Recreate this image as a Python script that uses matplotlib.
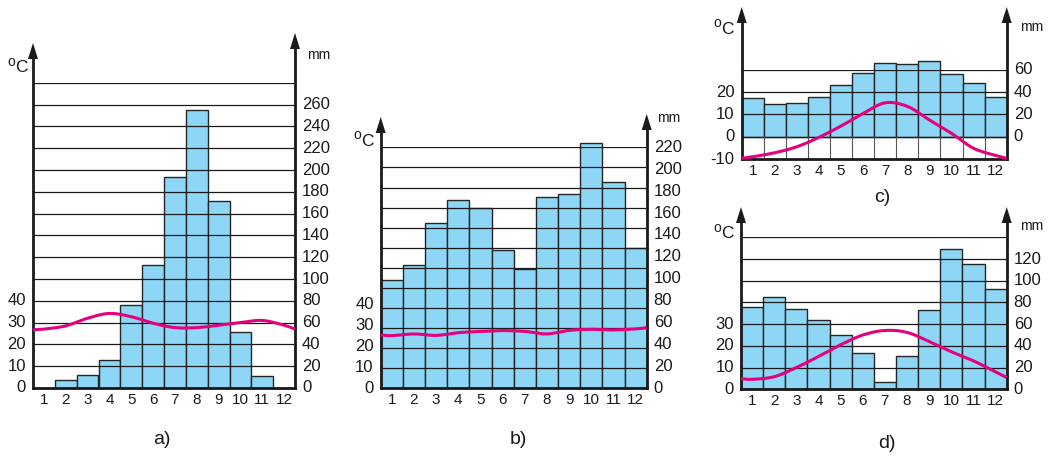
import numpy as np
import matplotlib
matplotlib.use("Agg")
import matplotlib.pyplot as plt
from matplotlib.transforms import blended_transform_factory, offset_copy
from matplotlib.patches import Polygon

plt.rcParams['font.family'] = ['Liberation Sans', 'DejaVu Sans']

W, H, DPI = 1055, 459, 100

# ---------------- data ----------------
months = list(range(1, 13))
month_labels = [str(m) for m in months]
# temperature curve is read at the left axis, at each month and at the right axis
temp_x = [0.5] + months + [12.5]

rain_a = [0, 7, 12, 26, 76, 113, 194, 255, 172, 51, 11, 0]
temp_a = [26.7, 27.0, 28.5, 32.0, 34.2, 32.7, 29.7, 27.7, 27.7, 28.8, 30.0, 31.0, 28.8, 27.0]

rain_b = [99, 113, 151, 172, 165, 126, 109, 175, 177, 224, 188, 128]
temp_b = [25.4, 25.1, 25.9, 25.2, 26.5, 27.1, 27.5, 27.1, 25.9, 27.6, 28.1, 27.8, 28.3, 28.9]

rain_c = [35, 29, 30, 36, 46, 57, 66, 65, 68, 56, 48, 36]
temp_c = [-9.7, -9.0, -7.2, -4.5, -0.3, 4.8, 10.4, 15.2, 13.6, 7.5, 1.5, -5.2, -8.4, -9.7]

rain_d = [76, 85, 74, 64, 50, 33, 7, 31, 73, 129, 115, 92]
temp_d = [4.9, 4.6, 5.8, 10.0, 15.1, 20.5, 25.0, 27.1, 26.2, 22.0, 17.3, 13.1, 8.0, 5.4]

mm_ticks_a = list(range(0, 261, 20))
mm_ticks_b = list(range(0, 221, 20))
mm_ticks_c = [0, 20, 40, 60]
mm_ticks_d = list(range(0, 121, 20))
t_ticks_a = [0, 10, 20, 30, 40]
t_ticks_b = [0, 10, 20, 30, 40]
t_ticks_c = [-10, 0, 10, 20]
t_ticks_d = [0, 10, 20, 30]
captions = ['a)', 'b)', 'c)', 'd)']

# ---------------- style ----------------
BAR = '#8dd6f5'
EDGE = '#262626'
LINE = '#e5007e'
INK = '#1a1a1a'

fig = plt.figure(figsize=(W / DPI, H / DPI), dpi=DPI)


def catmull(x, y, n=16):
    p = np.column_stack([x, y]).astype(float)
    p = np.vstack([2 * p[0] - p[1], p, 2 * p[-1] - p[-2]])
    t = np.linspace(0, 1, n, endpoint=False)[:, None]
    out = []
    for i in range(1, len(p) - 2):
        p0, p1, p2, p3 = p[i - 1], p[i], p[i + 1], p[i + 2]
        seg = 0.5 * ((2 * p1) + (-p0 + p2) * t + (2 * p0 - 5 * p1 + 4 * p2 - p3) * t ** 2
                     + (-p0 + 3 * p1 - 3 * p2 + p3) * t ** 3)
        out.append(seg)
    out.append(p[-2][None, :])
    r = np.vstack(out)
    return r[:, 0], r[:, 1]


def fx(x):
    return x / W


def fy(y):
    return 1 - y / H


def deg_c(x, y):
    fig.text(fx(x), fy(y - 6), 'o', fontsize=10, ha='left', va='center', color=INK)
    fig.text(fx(x + 8.5), fy(y), 'C', fontsize=12.5, ha='left', va='center', color=INK)


def panel(box, ylim, tlim, rain, temp, mm_ticks, t_ticks, grid, tips, neg_cells=False):
    left, right, bottom, top = box
    axw, axh = right - left, bottom - top
    ax = fig.add_axes([fx(left), fy(bottom), axw / W, axh / H])
    ax.set_xlim(0.5, 12.5)
    ax.set_ylim(*ylim)
    ax.axis('off')
    tx = ax.twinx()
    tx.set_ylim(*tlim)
    tx.axis('off')

    ax.bar(months, rain, width=1.0, color=BAR, edgecolor=EDGE, linewidth=1.0, zorder=2,
           clip_on=False)
    for g in grid:
        ax.axhline(g, color=INK, lw=0.9, zorder=3)
    if neg_cells:
        for b in np.arange(1.5, 12.5, 1.0):
            ax.plot([b, b], [ylim[0], 0], color='#555555', lw=0.8, zorder=3)

    cx, cy = catmull(temp_x, temp)
    tx.plot(cx, cy, color=LINE, lw=2.2, zorder=4, solid_capstyle='butt', clip_on=False)

    # axis lines with arrows
    ax.plot([0, 1], [0, 0], transform=ax.transAxes, color=INK, lw=2.0, zorder=6,
            clip_on=False, solid_capstyle='projecting')
    for xa, tip in zip([0, 1], tips):
        ft = (bottom - tip) / axh
        ah = 16 / axh
        aw = 5 / axw
        ax.plot([xa, xa], [0, ft - ah * 0.6], transform=ax.transAxes, color=INK, lw=2.0,
                zorder=6, clip_on=False, solid_capstyle='projecting')
        ax.add_patch(Polygon([[xa - aw, ft - ah], [xa + aw, ft - ah], [xa, ft]], closed=True,
                             transform=ax.transAxes, facecolor=INK, edgecolor='none',
                             zorder=7, clip_on=False))

    # tick labels
    tr_r = offset_copy(blended_transform_factory(ax.transAxes, ax.transData), fig=fig,
                       x=7, y=0, units='dots')
    for v in mm_ticks:
        ax.text(1, v, str(v), transform=tr_r, ha='left', va='center', fontsize=12, color=INK)
    tr_l = offset_copy(blended_transform_factory(ax.transAxes, tx.transData), fig=fig,
                       x=-7, y=0, units='dots')
    for v in t_ticks:
        ax.text(0, v, str(v), transform=tr_l, ha='right', va='center', fontsize=12, color=INK)
    tr_m = offset_copy(blended_transform_factory(ax.transData, ax.transAxes), fig=fig,
                       x=0, y=-12, units='dots')
    for m, lab in zip(months, month_labels):
        ax.text(m, 0, lab, transform=tr_m, ha='center', va='center', fontsize=11, color=INK)
    return ax


# panel a
panel((33, 295, 388, 82.8), (0, 280), (0, 140), rain_a, temp_a, mm_ticks_a, t_ticks_a,
      list(range(20, 281, 20)), (43, 33))
deg_c(7, 68)
fig.text(fx(307), fy(55), 'mm', fontsize=10, ha='left', va='center', color=INK)
fig.text(fx(162), fy(440), captions[0], fontsize=14, ha='center', va='center', color=INK)

# panel b (gridlines are drawn in 12 equal steps up to 220 mm)
panel((380.7, 646.7, 388.3, 147.4), (0, 220), (0, 114.8), rain_b, temp_b, mm_ticks_b,
      t_ticks_b, [k * 220 / 12 for k in range(1, 13)], (117, 114))
deg_c(353, 141)
fig.text(fx(657), fy(118), 'mm', fontsize=10, ha='left', va='center', color=INK)
fig.text(fx(518), fy(440), captions[1], fontsize=14, ha='center', va='center', color=INK)

# panel c
panel((741.7, 1006.7, 159, 69.8), (-20, 60), (-10, 30), rain_c, temp_c, mm_ticks_c,
      t_ticks_c, [0, 20, 40, 60], (7, 7), neg_cells=True)
deg_c(713, 29)
fig.text(fx(1020), fy(27), 'mm', fontsize=10, ha='left', va='center', color=INK)
fig.text(fx(882), fy(197), captions[2], fontsize=14, ha='center', va='center', color=INK)

# panel d
panel((741, 1006.7, 389.3, 237.3), (0, 140), (0, 70), rain_d, temp_d, mm_ticks_d,
      t_ticks_d, list(range(20, 141, 20)), (207, 207))
deg_c(713, 234)
fig.text(fx(1020), fy(226), 'mm', fontsize=10, ha='left', va='center', color=INK)
fig.text(fx(887), fy(443), captions[3], fontsize=14, ha='center', va='center', color=INK)

fig.savefig('out.png', dpi=DPI)
